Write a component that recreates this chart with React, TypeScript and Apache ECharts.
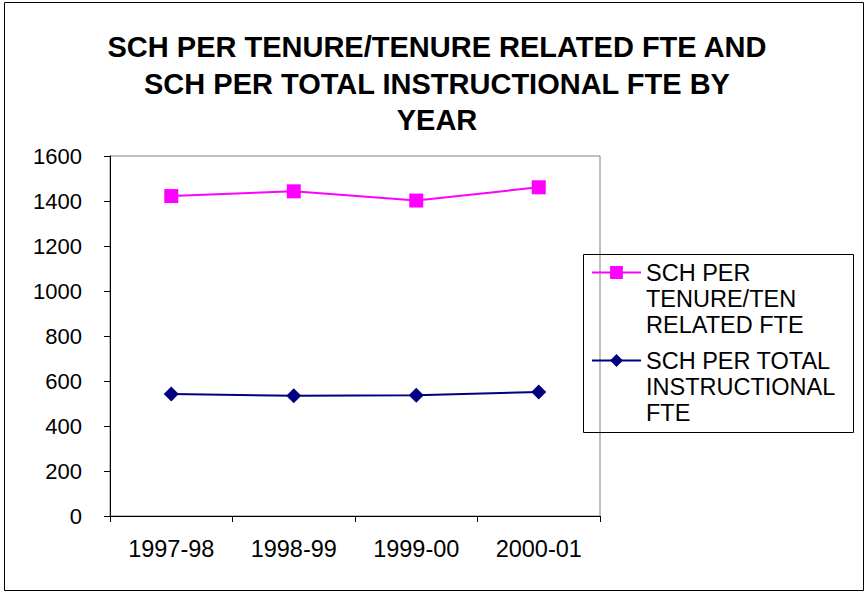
import React, { useEffect, useRef } from "react";
import * as echarts from "echarts";

const categories = ["1997-98", "1998-99", "1999-00", "2000-01"];
const tenureFte = [1422, 1443, 1402, 1461];
const totalInstructionalFte = [542, 534, 537, 551];
const seriesNames = ["SCH PER TENURE/TEN RELATED FTE", "SCH PER TOTAL INSTRUCTIONAL FTE"];
const legendLabels = ["SCH PER\nTENURE/TEN\nRELATED FTE", "SCH PER TOTAL\nINSTRUCTIONAL\nFTE"];
const titleText = "SCH PER TENURE/TENURE RELATED FTE AND\nSCH PER TOTAL INSTRUCTIONAL FTE BY\nYEAR";

const FONT = "'Liberation Sans', Arial, sans-serif";

export default function App() {
  const ref = useRef<HTMLDivElement>(null);
  useEffect(() => {
    if (!ref.current) return;
    const chart = echarts.init(ref.current, null, { renderer: "svg" });
    chart.setOption({
      animation: false,
      backgroundColor: "#ffffff",
      title: {
        text: titleText,
        left: 437,
        textAlign: "center",
        top: 29,
        padding: 0,
        textStyle: {
          fontFamily: FONT,
          fontSize: 29,
          fontWeight: "bold",
          color: "#000",
          lineHeight: 36.5,
        },
      },
      legend: {
        orient: "vertical",
        left: 591,
        top: 207.5,
        padding: 0,
        itemWidth: 49,
        itemHeight: 16,
        itemGap: -42,
        data: seriesNames,
        formatter: (name: string) => "\n\n" + legendLabels[seriesNames.indexOf(name)],
        textStyle: {
          fontFamily: FONT,
          fontSize: 23.5,
          color: "#000",
          lineHeight: 26,
        },
      },
      graphic: [
        {
          type: "rect",
          shape: { x: 4.5, y: 2.5, width: 859, height: 588 },
          style: { fill: "none", stroke: "#000", lineWidth: 1 },
          silent: true,
        },
        {
          type: "rect",
          shape: { x: 583.5, y: 254.5, width: 270, height: 178 },
          style: { fill: "none", stroke: "#000", lineWidth: 1 },
          silent: true,
        },
      ],
      grid: {
        left: 110,
        top: 156,
        width: 490,
        height: 360,
        show: true,
        borderColor: "#808080",
        borderWidth: 1,
        backgroundColor: "transparent",
      },
      xAxis: {
        type: "category",
        data: categories,
        boundaryGap: true,
        axisLine: { show: true, lineStyle: { color: "#000", width: 1 } },
        axisTick: { show: true, length: 6, alignWithLabel: false, lineStyle: { color: "#000" } },
        axisLabel: { fontFamily: FONT, fontSize: 23.5, color: "#000", margin: 21 },
        splitLine: { show: false },
      },
      yAxis: {
        type: "value",
        min: 0,
        max: 1600,
        interval: 200,
        axisLine: { show: true, lineStyle: { color: "#000", width: 1 } },
        axisTick: { show: true, length: 6, lineStyle: { color: "#000" } },
        axisLabel: {
          fontFamily: FONT,
          fontSize: 22,
          color: "#000",
          margin: 28,
          formatter: (v: number) => String(v),
        },
        splitLine: { show: false },
      },
      series: [
        {
          name: seriesNames[0],
          type: "line",
          data: tenureFte,
          symbol: "rect",
          symbolSize: 14,
          lineStyle: { color: "#FF00FF", width: 2 },
          itemStyle: { color: "#FF00FF" },
        },
        {
          name: seriesNames[1],
          type: "line",
          data: totalInstructionalFte,
          symbol: "diamond",
          symbolSize: 15,
          lineStyle: { color: "#000080", width: 2 },
          itemStyle: { color: "#000080" },
        },
      ],
    });
    return () => chart.dispose();
  }, []);
  return (
    <div
      ref={ref}
      style={{ position: "fixed", left: 0, top: 0, width: 865, height: 592, background: "#fff" }}
    />
  );
}
